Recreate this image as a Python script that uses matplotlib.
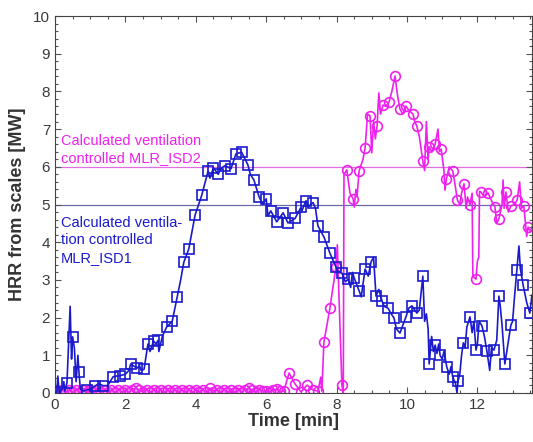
import numpy as np
import matplotlib
matplotlib.use("Agg")
import matplotlib.pyplot as plt
from matplotlib.ticker import MultipleLocator

plt.rcParams['font.family'] = ['Liberation Sans', 'DejaVu Sans']

# ---------------- data ----------------
# ISD1 (blue squares): marker points
isd1_mk_t = [0.0, 0.34, 0.5, 0.68, 0.9, 1.14, 1.37, 1.65, 1.85, 2.0, 2.15, 2.33, 2.53, 2.64, 2.8, 2.93,
             3.17, 3.33, 3.47, 3.66, 3.8, 3.98, 4.17, 4.35, 4.5, 4.64, 4.83, 5.0, 5.14, 5.3, 5.48, 5.65,
             5.8, 6.0, 6.13, 6.3, 6.48, 6.62, 6.82, 6.99, 7.13, 7.33, 7.47, 7.64, 7.81, 7.98, 8.15, 8.33,
             8.5, 8.64, 8.81, 8.98, 9.12, 9.29, 9.46, 9.63, 9.8, 9.97, 10.14, 10.28, 10.45, 10.63, 10.8,
             10.94, 11.13, 11.3, 11.45, 11.6, 11.79, 11.96, 12.13, 12.27, 12.47, 12.61, 12.78, 12.95,
             13.12, 13.3, 13.49]
isd1_mk_v = [0.02, 0.27, 1.49, 0.56, 0.08, 0.19, 0.19, 0.43, 0.46, 0.5, 0.77, 0.66, 0.63, 1.3, 1.38, 1.4,
             1.75, 1.9, 2.55, 3.47, 3.82, 4.72, 5.25, 5.89, 5.97, 5.8, 6.03, 5.95, 6.34, 6.39, 6.05, 5.65,
             5.2, 5.15, 4.83, 4.54, 4.78, 4.51, 4.63, 4.93, 5.1, 5.05, 4.43, 4.14, 3.71, 3.35, 3.18, 3.02,
             3.05, 2.71, 3.29, 3.48, 2.57, 2.44, 2.25, 1.99, 1.59, 2.02, 2.31, 2.12, 3.1, 0.77, 1.27,
             1.0, 0.69, 0.42, 0.32, 1.33, 2.02, 1.14, 1.78, 1.11, 1.14, 2.57, 0.77, 1.8,
             3.26, 2.86, 2.12]
# ISD1 extra (line-only) points
isd1_sp_t = [0.05, 0.08, 0.12, 0.2, 0.25, 0.28, 0.43, 0.47, 0.55, 0.6, 0.65, 0.72, 0.8, 1.0, 1.25, 1.5,
             1.75, 2.1, 2.4, 2.45, 2.7, 2.87, 2.95, 3.05, 3.57, 4.4, 4.7, 5.55, 5.9, 6.05, 7.0, 7.2, 7.4,
             8.05, 8.25, 8.4, 8.45, 8.7, 8.9, 9.05, 9.2, 9.35, 9.55, 9.7, 10.05, 10.35, 10.5, 10.55, 10.6,
             10.7, 10.75, 10.85, 10.9, 11.0, 11.05, 11.2, 11.25, 11.38, 11.42, 11.5, 11.55, 11.65, 11.7,
             11.85, 11.9, 12.0, 12.05, 12.2, 12.35, 12.4, 12.55, 12.65, 12.7, 12.85, 13.0, 13.05, 13.18,
             13.22, 13.4, 13.55, 13.6]
isd1_sp_v = [0.0, 0.45, 0.0, 0.1, 0.3, 0.05, 2.3, 0.9, 1.2, 0.3, 1.0, 0.1, 0.05, 0.1, 0.25, 0.2,
             0.45, 0.6, 0.72, 0.6, 1.1, 1.3, 1.1, 1.5, 3.0, 5.7, 5.95, 5.8, 5.0, 4.7, 4.8, 4.95, 4.9,
             3.2, 2.95, 2.8, 3.2, 2.55, 3.1, 3.6, 2.75, 2.3, 2.1, 1.7, 2.25, 2.2, 1.9, 2.1, 1.7,
             1.5, 1.1, 1.05, 1.3, 0.9, 1.1, 0.5, 0.7, 0.25, 0.0, 0.5, 1.0, 1.2, 1.75,
             1.6, 1.9, 1.3, 1.9, 1.5, 0.6, 1.2, 1.4, 2.3, 1.8, 1.2, 1.9, 2.5, 3.9,
             3.3, 2.4, 2.6, 2.3]

# ISD2 (magenta circles): marker points
isd2_mk_t = [0.0, 0.1, 0.2, 0.3, 0.4, 0.5, 0.6, 0.7, 0.8, 0.9, 1.0, 1.1, 1.2, 1.3, 1.4, 1.5, 1.6, 1.7,
             1.8, 1.9, 2.0, 2.1, 2.2, 2.3, 2.4, 2.5, 2.6, 2.7, 2.8, 2.9, 3.0, 3.1, 3.2, 3.3, 3.4, 3.5,
             3.6, 3.7, 3.8, 3.9, 4.0, 4.1, 4.2, 4.3, 4.4, 4.5, 4.6, 4.7, 4.8, 4.9, 5.0, 5.1, 5.2, 5.3,
             5.4, 5.5, 5.6, 5.7, 5.8, 5.9, 6.0, 6.1, 6.2, 6.3, 6.4, 6.5,
             6.65, 6.82, 6.99, 7.16, 7.33, 7.47, 7.64, 7.81, 7.98, 8.15, 8.29, 8.47, 8.64, 8.81, 8.95,
             9.15, 9.32, 9.49, 9.66, 9.8, 9.97, 10.17, 10.28, 10.45, 10.63, 10.8, 10.97, 11.12, 11.3,
             11.43, 11.62, 11.79, 11.96, 12.1, 12.3, 12.5, 12.61, 12.81, 12.95, 13.13, 13.32, 13.44]
isd2_mk_v = [0.05, 0.02, 0.09, 0.03, 0.08, 0.02, 0.09, 0.03, 0.07, 0.02, 0.08, 0.03, 0.09, 0.02, 0.08,
             0.03, 0.07, 0.02, 0.09, 0.03, 0.08, 0.02, 0.09, 0.13, 0.08, 0.03, 0.09, 0.02, 0.08, 0.03,
             0.09, 0.02, 0.07, 0.03, 0.09, 0.02, 0.08, 0.03, 0.09, 0.02, 0.08, 0.03, 0.09, 0.02, 0.12,
             0.03, 0.08, 0.02, 0.09, 0.03, 0.07, 0.02, 0.09, 0.03, 0.08, 0.13, 0.08, 0.03, 0.09, 0.05,
             0.06, 0.03, 0.08, 0.1, 0.04, 0.05,
             0.53, 0.24, 0.03, 0.21, 0.08, 0.05, 1.35, 2.25, 3.34, 0.21, 5.92, 5.15, 5.89, 6.5, 7.35,
             7.08, 7.64, 7.72, 8.41, 7.53, 7.61, 7.4, 7.08, 6.15, 6.53, 6.6, 6.47, 5.68, 5.89,
             5.12, 5.55, 5.0, 3.02, 5.33, 5.31, 4.93, 4.62, 5.33, 4.96, 5.12, 4.96, 4.4]
# ISD2 extra (line-only) points
isd2_sp_t = [7.55, 7.58, 8.02, 8.19, 8.21, 8.38, 8.5, 8.55, 8.58, 8.75, 8.88, 9.0, 9.05, 9.1, 9.2, 9.25,
             9.4, 9.57, 9.73, 9.88, 10.05, 10.22, 10.35, 10.5, 10.55, 10.6, 10.7, 10.88, 10.92, 11.05,
             11.08, 11.2, 11.37, 11.5, 11.55, 11.68, 11.72, 11.85, 11.87, 12.0, 12.04, 12.06, 12.2,
             12.4, 12.55, 12.7, 12.73, 12.76, 12.88, 13.05, 13.2, 13.25, 13.4, 13.5, 13.6]
isd2_sp_v = [0.42, 0.05, 3.93, 0.0, 5.8, 5.3, 4.93, 5.4, 5.2, 6.2, 7.4, 6.37, 7.2, 6.74, 7.96, 7.4,
             7.6, 8.0, 7.9, 7.4, 7.5, 7.2, 6.8, 5.9, 7.2, 6.2, 6.4, 7.0, 6.4, 5.9,
             5.38, 6.0, 5.5, 5.0, 5.3, 4.9, 5.2, 5.3, 3.1, 3.5, 3.6, 5.35, 5.2,
             5.1, 4.5, 5.0, 5.65, 4.9, 4.8, 5.0, 5.6, 4.9, 4.15, 4.3, 4.5]

limit_isd2 = 6.0
limit_isd1 = 5.0

xticks = [0, 2, 4, 6, 8, 10, 12]
yticks = list(range(0, 11))

# ---------------- plotting ----------------
blue = '#1a1acc'
magenta = '#ee22ee'


def merged(mt, mv, st, sv):
    t = np.array(list(mt) + list(st))
    v = np.array(list(mv) + list(sv))
    o = np.argsort(t, kind='stable')
    return t[o], v[o]


fig = plt.figure(figsize=(5.33, 4.42), dpi=100)
ax = fig.add_axes([55 / 533, 1 - 393 / 442, (532 - 55) / 533, (393 - 16) / 442])

ax.axhline(limit_isd2, color='#e070e0', lw=0.9, zorder=1)
ax.axhline(limit_isd1, color='#6a6aa8', lw=0.9, zorder=1)

t1, v1 = merged(isd1_mk_t, isd1_mk_v, isd1_sp_t, isd1_sp_v)
t2, v2 = merged(isd2_mk_t, isd2_mk_v, isd2_sp_t, isd2_sp_v)

ax.plot(t1, v1, color=blue, lw=1.2, zorder=3)
ax.plot(isd1_mk_t, isd1_mk_v, ls='none', marker='s', ms=6.5, mfc='none', mec=blue, mew=1.2, zorder=3)
ax.plot(t2, v2, color=magenta, lw=1.2, zorder=2)
ax.plot(isd2_mk_t, isd2_mk_v, ls='none', marker='o', ms=7, mfc='none', mec=magenta, mew=1.2, zorder=2)

ax.set_xlim(0, (532 - 55) / 35.2)
ax.set_ylim(0, 10)
ax.set_xticks(xticks)
ax.set_yticks(yticks)
ax.xaxis.set_minor_locator(MultipleLocator(0.5))
ax.yaxis.set_minor_locator(MultipleLocator(0.2))
ax.tick_params(which='both', direction='in', top=True, right=True, colors='#555555',
               labelcolor='#3a3a3a', labelsize=11, width=0.8)
ax.tick_params(which='major', length=4)
ax.tick_params(which='minor', length=2)
for s in ax.spines.values():
    s.set_color('#444444')
    s.set_linewidth(0.8)

ax.set_xlabel('Time [min]', fontsize=13, fontweight='bold', color='#333333', labelpad=1)
ax.set_ylabel('HRR from scales [MW]', fontsize=13, fontweight='bold', color='#333333', labelpad=5)

ax.text(0.17, 6.45, 'Calculated ventilation\ncontrolled MLR_ISD2', color=magenta, fontsize=10.5,
        linespacing=1.3, va='center', ha='left')
ax.text(0.17, 4.05, 'Calculated ventila-\ntion controlled\nMLR_ISD1', color=blue, fontsize=10.5,
        linespacing=1.3, va='center', ha='left')

fig.savefig('out.png', dpi=100)
